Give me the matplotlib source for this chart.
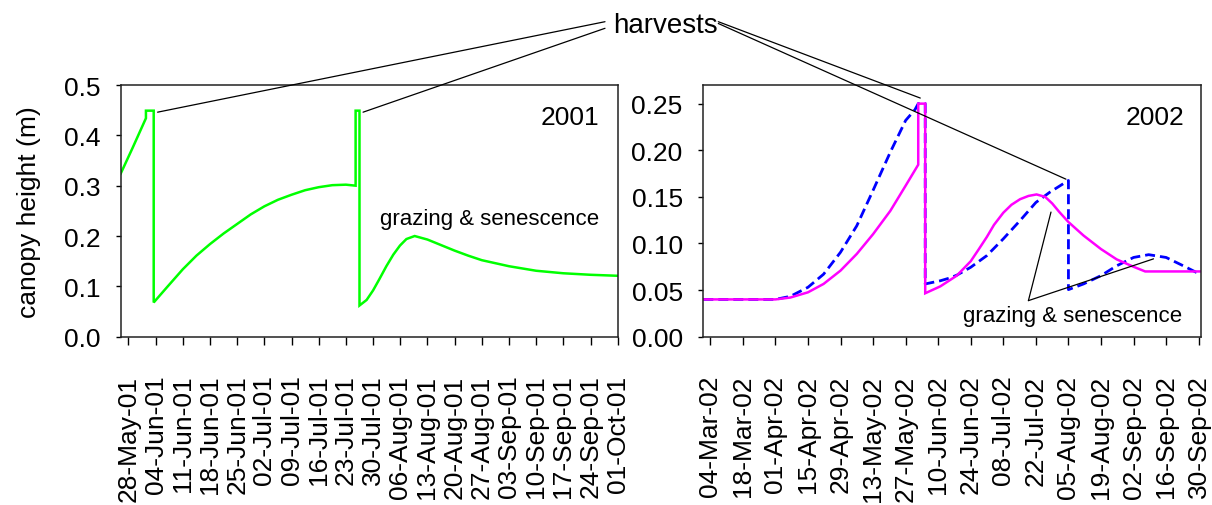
import matplotlib
matplotlib.use("Agg")
import matplotlib.dates as mdates
import matplotlib.pyplot as plt
import pandas as pd

plt.rcParams["font.family"] = ["Liberation Sans", "DejaVu Sans"]

# --- 2001: single simulated canopy (green) ---
dates_2001 = [
    "2001-05-26", "2001-05-29", "2001-06-01 12:00", "2001-06-01 12:00",
    "2001-06-03 12:00", "2001-06-03 12:00", "2001-06-07", "2001-06-11",
    "2001-06-14 12:00", "2001-06-18", "2001-06-21 12:00", "2001-06-25",
    "2001-06-28 12:00", "2001-07-02", "2001-07-05 12:00", "2001-07-09",
    "2001-07-12 12:00", "2001-07-16", "2001-07-19 12:00", "2001-07-23",
    "2001-07-25 12:00", "2001-07-25 12:00", "2001-07-26 12:00", "2001-07-26 12:00",
    "2001-07-28 08:00", "2001-07-30", "2001-07-31 16:00", "2001-08-02 10:00",
    "2001-08-04 05:00", "2001-08-05 22:00", "2001-08-07 14:00", "2001-08-09 17:00",
    "2001-08-13", "2001-08-16 12:00", "2001-08-20", "2001-08-23 12:00",
    "2001-08-27", "2001-09-03", "2001-09-10", "2001-09-17", "2001-09-24",
    "2001-10-01",
]
height_2001 = [
    0.324, 0.374, 0.434, 0.449,
    0.449, 0.068, 0.099, 0.134,
    0.161, 0.184, 0.205, 0.224,
    0.243, 0.259, 0.272, 0.282,
    0.291, 0.297, 0.301, 0.302,
    0.300, 0.449, 0.449, 0.062,
    0.073, 0.092, 0.115, 0.140,
    0.163, 0.181, 0.194, 0.200,
    0.193, 0.182, 0.171, 0.161,
    0.152, 0.140, 0.131, 0.126, 0.123,
    0.121,
]

# --- 2002: two simulated canopies (magenta solid, blue dashed) ---
dates_2002_a = [
    "2002-03-01", "2002-04-01", "2002-04-07 10:00", "2002-04-15",
    "2002-04-21 17:00", "2002-04-29", "2002-05-06", "2002-05-13",
    "2002-05-20 10:00", "2002-05-27", "2002-06-01 10:00", "2002-06-01 10:00",
    "2002-06-04 10:00", "2002-06-04 10:00", "2002-06-10 22:00", "2002-06-18",
    "2002-06-24", "2002-06-27 12:00", "2002-06-30 22:00", "2002-07-04",
    "2002-07-08", "2002-07-11 12:00", "2002-07-15 05:00", "2002-07-18 20:00",
    "2002-07-22 07:00", "2002-07-26", "2002-07-29", "2002-08-01",
    "2002-08-05", "2002-08-11 12:00", "2002-08-19", "2002-08-25 17:00",
    "2002-09-02", "2002-09-07", "2002-10-01",
]
height_2002_a = [
    0.040, 0.040, 0.042, 0.0476,
    0.0566, 0.0709, 0.0888, 0.110,
    0.135, 0.162, 0.1845, 0.250,
    0.250, 0.0466, 0.054, 0.0655,
    0.081, 0.094, 0.107, 0.120,
    0.133, 0.1415, 0.1475, 0.151,
    0.1526, 0.150, 0.143, 0.134,
    0.123, 0.1085, 0.094, 0.083,
    0.075, 0.070, 0.070,
]

dates_2002_b = [
    "2002-03-01", "2002-04-01", "2002-04-07 10:00", "2002-04-15",
    "2002-04-21 17:00", "2002-04-29", "2002-05-06", "2002-05-13",
    "2002-05-20 10:00", "2002-05-27", "2002-05-31", "2002-06-01 10:00",
    "2002-06-04 10:00", "2002-06-04 10:00", "2002-06-10 22:00", "2002-06-15",
    "2002-06-18", "2002-06-24", "2002-06-30 22:00", "2002-07-08",
    "2002-07-15 05:00", "2002-07-22", "2002-07-28", "2002-08-05",
    "2002-08-05", "2002-08-11 12:00", "2002-08-19", "2002-08-25 17:00",
    "2002-09-02", "2002-09-08 12:00", "2002-09-16", "2002-09-23 10:00",
    "2002-09-29", "2002-10-01",
]
height_2002_b = [
    0.040, 0.040, 0.0433, 0.053,
    0.067, 0.0906, 0.119, 0.157,
    0.198, 0.232, 0.2435, 0.250,
    0.250, 0.0566, 0.060, 0.063,
    0.066, 0.0745, 0.087, 0.105,
    0.1246, 0.144, 0.155, 0.1676,
    0.0505, 0.0566, 0.0655, 0.076,
    0.085, 0.088, 0.085, 0.076,
    0.069, 0.068,
]

ticks_2001 = pd.date_range("2001-05-28", "2001-10-01", freq="7D")
ticks_2002 = pd.date_range("2002-03-04", "2002-09-30", freq="14D")


def to_dates(values):
    return pd.to_datetime(values, format="ISO8601")


W, H = 1212, 506
fig = plt.figure(figsize=(W / 100, H / 100), dpi=100)
ax1 = fig.add_axes([120.7 / W, 1 - 337.7 / H, 497.0 / W, 251.7 / H])
ax2 = fig.add_axes([703.3 / W, 1 - 337.7 / H, 497.7 / W, 251.7 / H])

ax1.plot(to_dates(dates_2001), height_2001, color="#00ff00", lw=1.8,
         solid_joinstyle="miter")

line_b, = ax2.plot(to_dates(dates_2002_b), height_2002_b, color="#0000ff",
                   lw=2.0, linestyle="--")
line_b.set_dashes((3.6, 1.8))
ax2.plot(to_dates(dates_2002_a), height_2002_a, color="#ff00ff", lw=1.8,
         solid_joinstyle="miter")

ax1.set_xlim(pd.Timestamp("2001-05-26"), pd.Timestamp("2001-10-01"))
ax1.set_ylim(0, 0.5)
ax1.set_yticks([0.0, 0.1, 0.2, 0.3, 0.4, 0.5])
ax1.yaxis.set_major_formatter(matplotlib.ticker.FormatStrFormatter("%.1f"))
ax1.set_xticks(ticks_2001)

ax2.set_xlim(pd.Timestamp("2002-03-01"), pd.Timestamp("2002-10-01"))
ax2.set_ylim(0, 0.27)
ax2.set_yticks([0.0, 0.05, 0.10, 0.15, 0.20, 0.25])
ax2.yaxis.set_major_formatter(matplotlib.ticker.FormatStrFormatter("%.2f"))
ax2.set_xticks(ticks_2002)

for ax in (ax1, ax2):
    ax.xaxis.set_major_formatter(mdates.DateFormatter("%d-%b-%y"))
    ax.tick_params(axis="x", direction="out", length=5.8, width=1.0,
                   pad=21.5, labelsize=19, labelrotation=90)
    ax.tick_params(axis="y", direction="out", length=3.8, width=1.0,
                   pad=11, labelsize=19)
    for spine in ax.spines.values():
        spine.set_linewidth(1.1)
        spine.set_color("#222222")

ax1.set_ylabel("canopy height (m)", fontsize=19, labelpad=16)

ax1.text(0.963, 0.845, "2001", transform=ax1.transAxes, ha="right",
         va="baseline", fontsize=19)
ax2.text(0.966, 0.845, "2002", transform=ax2.transAxes, ha="right",
         va="baseline", fontsize=19)

ax1.text(0.963, 0.448, "grazing & senescence", transform=ax1.transAxes,
         ha="right", va="baseline", fontsize=16)
ax2.text(0.963, 0.0636, "grazing & senescence", transform=ax2.transAxes,
         ha="right", va="baseline", fontsize=16)

# pointer lines for the 2002 grazing label
thin = dict(arrowstyle="-", color="black", lw=0.9, shrinkA=0, shrinkB=0)
graze_from = (mdates.date2num(pd.Timestamp("2002-07-18 19:00")), 0.0387)
for when, val in [("2002-07-28 12:00", 0.1337), ("2002-09-10 14:00", 0.0835)]:
    ax2.annotate("", xy=(mdates.date2num(pd.Timestamp(when)), val),
                 xytext=graze_from, textcoords="data", arrowprops=thin)

# "harvests" label with lines to each harvest peak
fig.text(665 / W, 1 - 33.3 / H, "harvests", ha="center", va="baseline",
         fontsize=20)
harvest_left = [("2001-06-04 12:00", 0.446, 22.7), ("2001-07-27 10:00", 0.446, 29.3)]
for when, val, y0 in harvest_left:
    ax1.annotate("", xy=(mdates.date2num(pd.Timestamp(when)), val),
                 xytext=(605 / W, 1 - y0 / H), textcoords="figure fraction",
                 arrowprops=thin, annotation_clip=False)
harvest_right = [("2002-06-02 07:00", 0.256, 22.7), ("2002-08-03 22:00", 0.169, 24.5)]
for when, val, y0 in harvest_right:
    ax2.annotate("", xy=(mdates.date2num(pd.Timestamp(when)), val),
                 xytext=(718.3 / W, 1 - y0 / H), textcoords="figure fraction",
                 arrowprops=thin, annotation_clip=False)

fig.savefig("out.png", dpi=100)
plt.close(fig)
